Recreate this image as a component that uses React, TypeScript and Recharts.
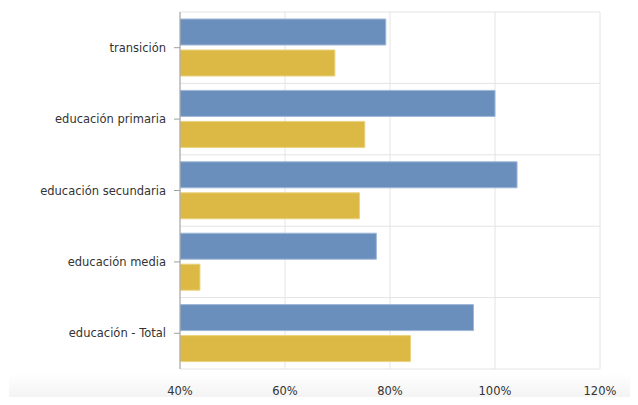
import { Bar, BarChart, CartesianGrid, XAxis, YAxis } from 'recharts';

// Tasa de cobertura por nivel educativo (two series, percent)
const categories = [
  'transición',
  'educación primaria',
  'educación secundaria',
  'educación media',
  'educación - Total',
];
const serieAzul = [79.2, 100.0, 104.2, 77.4, 95.9];
const serieAmarilla = [69.5, 75.2, 74.2, 43.8, 83.9];
const xTicks = [40, 60, 80, 100, 120];

const BLUE = '#6a8fbd';
const YELLOW = '#dcb944';
const GRID = '#e4e4e4';

const data = categories.map((name, i) => ({
  name,
  azul: serieAzul[i],
  amarilla: serieAmarilla[i],
}));

// horizontal grid lines go on the category band edges, not the band centres
const bandEdgeLines = ({ offset }: any) => {
  const step = offset.height / categories.length;
  return [...categories.map((_, i) => offset.top + i * step), offset.top + offset.height];
};

export default function App() {
  return (
    <div style={{ position: 'relative', width: 638, height: 405, margin: -8, fontFamily: '"DejaVu Sans", Verdana, sans-serif' }}>
      {/* soft grey band behind the x-axis labels */}
      <div
        style={{
          position: 'absolute',
          left: 9,
          right: 0,
          top: 374,
          bottom: 0,
          background: 'linear-gradient(#ffffff, #efefef)',
        }}
      />
      <BarChart
        width={638}
        height={405}
        data={data}
        layout="vertical"
        margin={{ top: 12, right: 38, left: 0, bottom: 0 }}
        barSize={26}
        barGap={5}
        style={{ position: 'absolute', left: 0, top: 0 }}
      >
        <CartesianGrid stroke={GRID} horizontalCoordinatesGenerator={bandEdgeLines} />
        <XAxis
          type="number"
          domain={[40, 120]}
          ticks={xTicks}
          tickFormatter={(v: number) => `${v}%`}
          axisLine={false}
          tickLine={false}
          height={36}
          tick={{ fontSize: 11.5, fill: '#333' }}
          tickMargin={12}
          allowDataOverflow
        />
        <YAxis
          type="category"
          dataKey="name"
          width={180}
          axisLine={{ stroke: '#a0a0a0' }}
          tickLine={{ stroke: '#a0a0a0' }}
          tickSize={6}
          tickMargin={8}
          tick={{ fontSize: 11.5, fill: '#333' }}
        />
        <Bar dataKey="azul" fill={BLUE} stroke="#9fb7d8" strokeWidth={1} isAnimationActive={false} />
        <Bar dataKey="amarilla" fill={YELLOW} stroke="#ead27f" strokeWidth={1} isAnimationActive={false} />
      </BarChart>
    </div>
  );
}
